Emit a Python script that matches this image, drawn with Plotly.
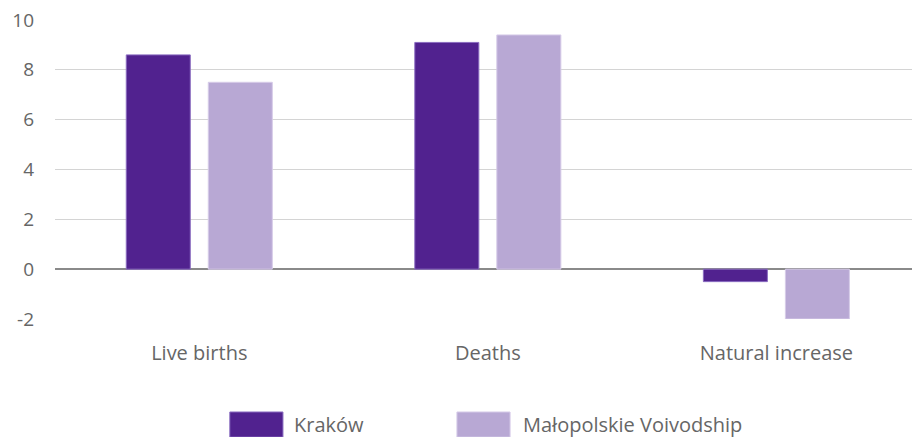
import plotly.graph_objects as go

categories = ["Live births", "Deaths", "Natural increase"]
series_names = ["Kraków", "Małopolskie Voivodship"]
krakow = [8.6, 9.1, -0.5]
malopolskie = [7.5, 9.4, -2.0]
y_ticks = [-2, 0, 2, 4, 6, 8, 10]
y_tick_text = ["-2", "0", "2", "4", "6", "8", "10"]

colors = ["#51228f", "#b8a8d4"]
edge = ["#8a6cc0", "#d6cbe8"]
font_family = "Open Sans, Noto Sans, sans-serif"
text_color = "#666666"

fig = go.Figure()
for name, vals, c, e in zip(series_names, [krakow, malopolskie], colors, edge):
    fig.add_trace(go.Bar(x=categories, y=vals, name=name,
                         marker=dict(color=c, line=dict(color=e, width=1))))

fig.update_layout(
    width=912, height=437,
    margin=dict(l=55, r=0, t=20, b=118),
    plot_bgcolor="white", paper_bgcolor="white",
    barmode="group", bargap=0.4315, bargroupgap=0.2195,
    showlegend=False,
    font=dict(family=font_family, size=19, color=text_color),
    xaxis=dict(range=[-0.5, 2.47], showgrid=False, showline=False, ticks="",
               ticklabelstandoff=20, tickfont=dict(size=20, color=text_color)),
    yaxis=dict(range=[-2, 10], tickvals=y_ticks, ticktext=y_tick_text,
               showgrid=True, gridcolor="#d4d4d4",
               gridwidth=1, zeroline=True, zerolinecolor="#8a8a8a", zerolinewidth=1.5,
               showline=False, ticks="", ticklabelstandoff=20,
               tickfont=dict(size=19, color=text_color)),
)

# Legend drawn manually with large swatches
swatches = [(0.204, 0.266, 0.278), (0.469, 0.531, 0.545)]
for (x0, x1, tx), name, c, e in zip(swatches, series_names, colors, edge):
    fig.add_shape(type="rect", xref="paper", yref="paper", x0=x0, x1=x1,
                  y0=-0.395, y1=-0.311, fillcolor=c, line=dict(color=e, width=1))
    fig.add_annotation(xref="paper", yref="paper", x=tx, y=-0.352, text=name,
                       showarrow=False, xanchor="left", yanchor="middle",
                       borderpad=0,
                       font=dict(size=20, color=text_color, family=font_family))

fig.write_html("out.html", config={"displayModeBar": False},
               post_script="document.body.style.margin='0';document.body.style.overflow='hidden';")
